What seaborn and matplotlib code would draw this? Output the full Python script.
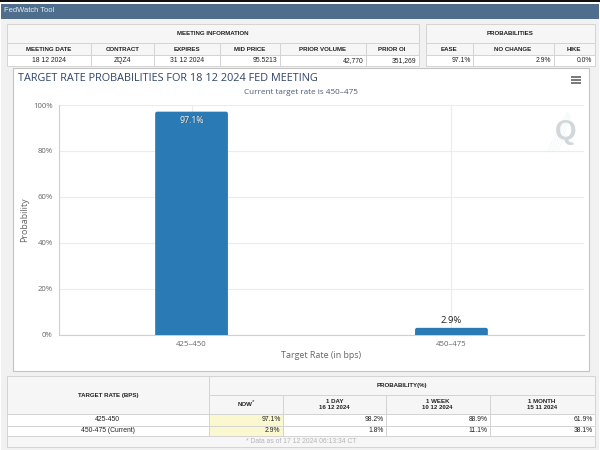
import pandas as pd
import matplotlib.pyplot as plt
from matplotlib.patches import Rectangle, FancyBboxPatch
import seaborn as sns

sns.set_theme(style="whitegrid")
plt.rcParams['font.family'] = ['Liberation Sans', 'DejaVu Sans']

# chart data
rates = ["425–450", "450–475"]
probs = [97.1, 2.9]
prob_labels = ["97.1%", "2.9%"]

# meeting info tables
info_heads = ["MEETING DATE", "CONTRACT", "EXPIRES", "MID PRICE", "PRIOR VOLUME", "PRIOR OI"]
info_vals = ["18 12 2024", "ZQZ4", "31 12 2024", "95.5213", "42,770", "351,269"]
info_aligns = ["center", "center", "center", "right", "right", "right"]
prob_heads = ["EASE", "NO CHANGE", "HIKE"]
prob_vals = ["97.1%", "2.9%", "0.0%"]

# bottom table
hist_rates = ["425-450", "450-475 (Current)"]
hist_heads = ["NOW", "1 DAY\n16 12 2024", "1 WEEK\n10 12 2024", "1 MONTH\n15 11 2024"]
hist_row1 = ["97.1%", "98.2%", "88.9%", "61.9%"]
hist_row2 = ["2.9%", "1.8%", "11.1%", "38.1%"]

BLUE = "#2a7ab5"
LINE = "#d4d4d4"
HEAD = "#f6f6f6"
CHART_FONT = ["Open Sans", "DejaVu Sans"]

fig = plt.figure(figsize=(6, 4.5), dpi=100, facecolor="white")

# page overlay in pixel coordinates
bg = fig.add_axes([0, 0, 1, 1], zorder=0)
bg.set_xlim(0, 600)
bg.set_ylim(450, 0)
bg.axis("off")


def cell(x0, y0, x1, y1, text="", fc="white", bold=False, align="center", size=4.9, color="#222222"):
    bg.add_patch(Rectangle((x0, y0), x1 - x0, y1 - y0, fc=fc, ec=LINE, lw=0.7))
    if text:
        x = {"center": (x0 + x1) / 2, "right": x1 - 2, "left": x0 + 2}[align]
        bg.text(x, (y0 + y1) / 2 + 0.2, text, ha=align, va="center", fontsize=4.4 if bold else size, color=color,
                fontweight="bold" if bold else "normal", linespacing=1.3)


bg.add_patch(Rectangle((0, 0), 600, 2, fc="#111111", ec="none"))
bg.add_patch(Rectangle((1, 4), 598, 446, fc="#f1f1f1", ec="none"))
bg.add_patch(Rectangle((1, 4), 598, 14.5, fc="#4f6e8e", ec="none"))
bg.text(4, 10.8, "FedWatch Tool", color="#e8eef4", fontsize=5.4, va="center")

# meeting information
cell(7, 24, 418.5, 43, "MEETING INFORMATION", fc=HEAD, bold=True)
info_x = [7, 90.5, 154, 219.5, 279.5, 365.5, 418.5]
for i in range(6):
    cell(info_x[i], 43, info_x[i + 1], 55, info_heads[i], fc=HEAD, bold=True)
    cell(info_x[i], 55, info_x[i + 1], 66, info_vals[i], align=info_aligns[i])

# probabilities
cell(425.5, 24, 594.5, 43, "PROBABILITIES", fc=HEAD, bold=True)
prob_x = [425.5, 472.5, 553.5, 594.5]
for i in range(3):
    cell(prob_x[i], 43, prob_x[i + 1], 55, prob_heads[i], fc=HEAD, bold=True)
    cell(prob_x[i], 55, prob_x[i + 1], 66, prob_vals[i], align="right")

# chart panel
bg.add_patch(Rectangle((12.5, 68), 576, 303, fc="white", ec="#c4c4c4", lw=0.8))

# bottom table
cell(7, 376, 208.5, 414, "TARGET RATE (BPS)", fc=HEAD, bold=True)
cell(208.5, 376, 594.5, 395, "PROBABILITY(%)", fc=HEAD, bold=True)
hist_x = [208.5, 282.5, 386, 489.5, 594.5]
for i in range(4):
    cell(hist_x[i], 395, hist_x[i + 1], 414, hist_heads[i], fc=HEAD, bold=True)
    fc = "#fbf8d0" if i == 0 else "white"
    cell(hist_x[i], 414, hist_x[i + 1], 425.5, hist_row1[i], fc=fc, align="right")
    cell(hist_x[i], 425.5, hist_x[i + 1], 435.5, hist_row2[i], fc=fc, align="right")
cell(7, 414, 208.5, 425.5, hist_rates[0])
cell(7, 425.5, 208.5, 435.5, hist_rates[1])
cell(7, 435.5, 594.5, 447, "* Data as of 17 12 2024 06:13:34 CT", fc=HEAD, color="#b5b5b5")
bg.text(253.5, 402, "*", fontsize=4.5, ha="center", va="center", color="#222222")

# chart header
bg.text(18, 78.5, "TARGET RATE PROBABILITIES FOR 18 12 2024 FED MEETING", fontsize=7.85,
        color="#2f4468", va="center", family=CHART_FONT)
bg.text(300.5, 92.5, "Current target rate is 450–475", fontsize=5.9, color="#4a5a78", ha="center",
        va="center", family=CHART_FONT)
for yy in [76.5, 79.8, 83]:
    bg.plot([571, 581], [yy, yy], color="#555555", lw=1.1, solid_capstyle="butt")

# bar chart
ax = fig.add_axes([59 / 600, (450 - 334.5) / 450, 525 / 600, 229.5 / 450], zorder=1)
ax.patch.set_alpha(0)
df = pd.DataFrame({"rate": rates, "prob": probs})
sns.barplot(data=df, x="rate", y="prob", color=BLUE, saturation=1, width=0.28, ax=ax, zorder=3)
ax.set_xlim(-0.51, 1.51)
ax.set_ylim(0, 100)

# rounded top corners, bottoms hidden below the axis
for p in list(ax.patches):
    ax.add_patch(FancyBboxPatch((p.get_x(), -2), p.get_width(), p.get_height() + 2,
                                boxstyle="round,pad=0,rounding_size=0.008", mutation_aspect=109,
                                fc=BLUE, ec="none", zorder=3))
    p.set_visible(False)

ax.set_yticks([0, 20, 40, 60, 80, 100])
ax.set_yticklabels(["0%", "20%", "40%", "60%", "80%", "100%"])
ax.grid(True, color="#ececec", lw=0.8)
ax.set_axisbelow(True)
ax.tick_params(axis="both", labelsize=5.6, labelcolor="#666666", length=3, width=0.6, color="#cccccc", pad=1.5)
for lab in ax.get_xticklabels() + ax.get_yticklabels():
    lab.set_family(CHART_FONT)
for side in ["top", "right"]:
    ax.spines[side].set_visible(False)
for side in ["left", "bottom"]:
    ax.spines[side].set_color("#cfcfcf")
    ax.spines[side].set_linewidth(0.8)
ax.set_ylabel("Probability", fontsize=6.4, color="#666666", labelpad=3, family=CHART_FONT)
ax.set_xlabel("Target Rate (in bps)", fontsize=6.4, color="#666666", labelpad=2, family=CHART_FONT)

# value labels
ax.text(0.003, probs[0] - 4, prob_labels[0], ha="center", va="center", fontsize=6.3, color="#444444",
        alpha=0.6, zorder=4, family=CHART_FONT)
ax.text(0, probs[0] - 4, prob_labels[0], ha="center", va="center", fontsize=6.3, color="#f4f4f4", zorder=5,
        family=CHART_FONT)
ax.text(1, probs[1] + 3.4, prob_labels[1], ha="center", va="center", fontsize=6.8, color="#222222", zorder=5,
        family=CHART_FONT)

# watermark
fg = fig.add_axes([0, 0, 1, 1], zorder=2)
fg.set_xlim(0, 600)
fg.set_ylim(450, 0)
fg.axis("off")
fg.text(566, 132, "Q", fontsize=20, fontweight="bold", color="#d2d7d9", ha="center", va="center")
for off in [0, 3, 6, 9, 12]:
    fg.plot([547 + off, 567 + off * 0.3], [152 - off * 0.2, 112 + off * 0.3], color="#dcedf2", lw=0.6, ls=":")

fig.savefig("out.png", dpi=100)
